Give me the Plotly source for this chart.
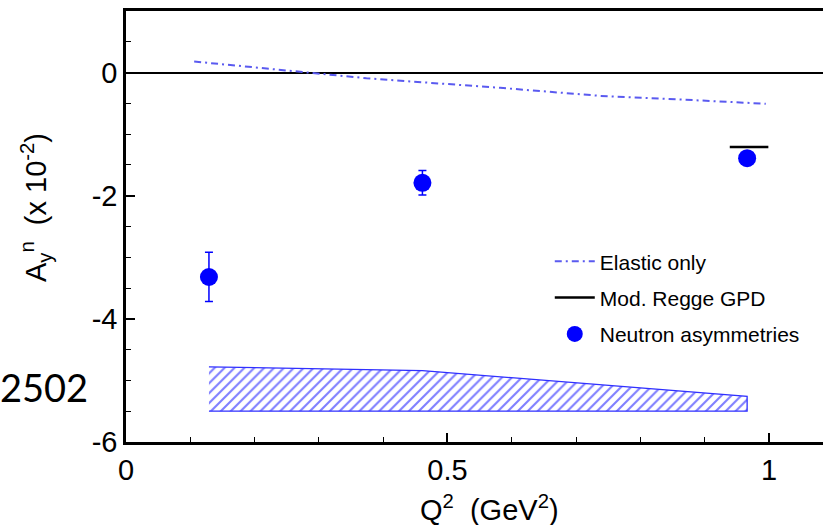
import plotly.graph_objects as go

# Neutron single-spin asymmetry A_y^n vs Q^2
q2_data = [0.129, 0.461, 0.966]
ay_data = [-3.32, -1.79, -1.39]
ay_err = [0.40, 0.20, 0.06]

# Elastic-only calculation
q2_elastic = [0.106, 0.275, 0.374, 0.582, 0.737, 0.893, 0.995]
ay_elastic = [0.18, 0.016, -0.092, -0.248, -0.378, -0.453, -0.507]

# Modified Regge GPD prediction
q2_regge = [0.939, 0.999]
ay_regge = [-1.21, -1.21]

# Systematic uncertainty band
band_q2 = [0.129, 0.461, 0.966]
band_top = [-4.78, -4.84, -5.26]
band_bottom = [-5.50, -5.50, -5.50]

# Axis tick labels
x_ticks = [0, 0.5, 1]
x_ticktext = ["0", "0.5", "1"]
y_ticks = [-6, -4, -2, 0]
y_ticktext = ["-6", "-4", "-2", "0"]

BLUE = "#0000ff"
FONT = "Liberation Sans, Arial, Helvetica, sans-serif"

fig = go.Figure()

fig.add_trace(go.Scatter(
    x=band_q2 + band_q2[::-1],
    y=band_top + band_bottom[::-1],
    fill="toself",
    mode="lines",
    line=dict(color="#3030ff", width=1.3),
    fillcolor="rgba(255,255,255,0)",
    fillpattern=dict(shape="/", fgcolor="#0000ff", bgcolor="white",
                     size=7, solidity=0.3),
    showlegend=False, hoverinfo="skip",
))

fig.add_trace(go.Scatter(
    x=q2_elastic, y=ay_elastic, mode="lines", name="Elastic only",
    line=dict(color="#5a5af0", width=2, dash="7px,4px,2px,4px"),
    legendgroup="a",
))

fig.add_trace(go.Scatter(
    x=q2_regge, y=ay_regge, mode="lines", name="Mod. Regge GPD",
    line=dict(color="black", width=2.5),
    legendgroup="b",
))

fig.add_trace(go.Scatter(
    x=q2_data, y=ay_data, mode="markers", name="Neutron asymmetries",
    marker=dict(color=BLUE, size=18, symbol="circle"),
    error_y=dict(type="data", array=ay_err, color=BLUE, thickness=1.5, width=4),
    legendgroup="c",
))

axis_common = dict(
    showgrid=False, ticks="inside", linecolor="black", linewidth=2.5,
    tickcolor="black", tickwidth=1.5, ticklen=9,
    tickfont=dict(family=FONT, size=29, color="black"),
)

fig.update_xaxes(
    range=[0, 1.084], tickvals=x_ticks, ticktext=x_ticktext,
    mirror=True, zeroline=False,
    minor=dict(dtick=0.1, tick0=0, ticklen=5, ticks="inside",
               tickcolor="black", tickwidth=1.2),
    **axis_common,
)
fig.update_yaxes(
    range=[-6, 1.0], tickvals=y_ticks, ticktext=y_ticktext, mirror=False,
    zeroline=True, zerolinecolor="black", zerolinewidth=1.5,
    minor=dict(dtick=0.5, tick0=0, ticklen=5, ticks="inside",
               tickcolor="black", tickwidth=1.2),
    **axis_common,
)

fig.add_annotation(
    text="A<sub>y</sub><sup>n</sup>  (x 10<sup>-2</sup>)", xref="paper", yref="paper",
    x=-0.129, y=0.543, xanchor="center", yanchor="middle", textangle=-90,
    showarrow=False, font=dict(family=FONT, size=29, color="black"),
)
fig.add_annotation(
    text="Q<sup>2</sup>  (GeV<sup>2</sup>)", xref="paper", yref="paper",
    x=0.522, y=-0.153, xanchor="center", yanchor="middle", showarrow=False,
    font=dict(family=FONT, size=29, color="black"),
)
fig.add_annotation(
    text="2502", xref="paper", yref="paper",
    x=-0.1836, y=0.128, xanchor="left", yanchor="middle", showarrow=False,
    font=dict(family="Lato, Open Sans, sans-serif", size=38, color="black"),
)

fig.update_layout(
    width=823, height=525,
    margin=dict(l=126, r=0, t=11, b=83),
    paper_bgcolor="white", plot_bgcolor="white",
    showlegend=True,
    legend=dict(
        x=0.608, y=0.466, xanchor="left", yanchor="top",
        font=dict(family=FONT, size=21, color="black"),
        bgcolor="rgba(0,0,0,0)", borderwidth=0,
        traceorder="grouped", tracegroupgap=6, itemwidth=40,
    ),
)

fig.write_html("out.html")
